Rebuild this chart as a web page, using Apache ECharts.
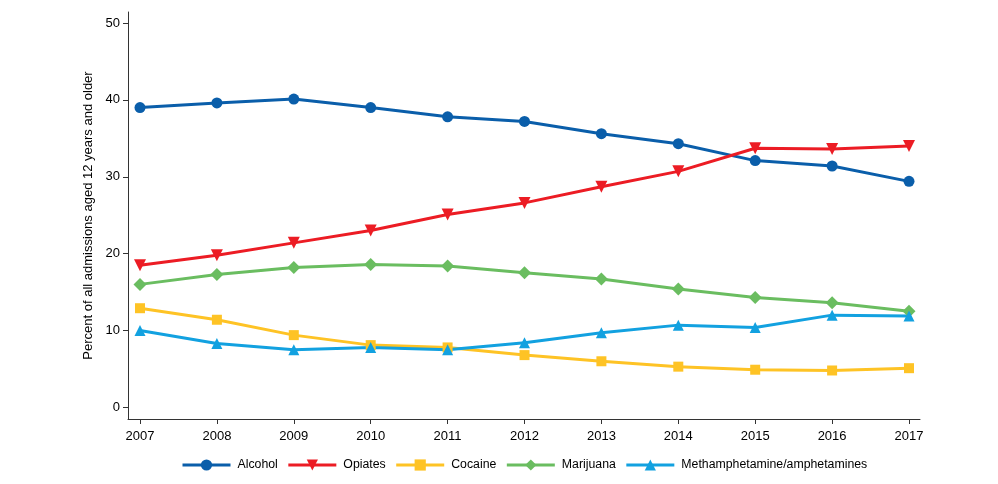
<!DOCTYPE html>
<html><head><meta charset="utf-8">
<script src="https://cdn.jsdelivr.net/npm/echarts@6/dist/echarts.min.js"></script>
<style>html,body{margin:0;padding:0;background:#fff}#c{width:998px;height:484px}</style>
</head><body><div id="c"></div>
<script>
const years = [2007,2008,2009,2010,2011,2012,2013,2014,2015,2016,2017];
const alcohol = [39.0,39.6,40.1,39.0,37.8,37.2,35.6,34.3,32.1,31.4,29.4];
const opiates = [18.5,19.8,21.4,23.0,25.1,26.6,28.7,30.7,33.7,33.6,34.0];
const cocaine = [12.9,11.4,9.4,8.1,7.8,6.8,6.0,5.3,4.9,4.8,5.1];
const marijuana = [16.0,17.3,18.2,18.6,18.4,17.5,16.7,15.4,14.3,13.6,12.5];
const meth = [10.0,8.3,7.5,7.8,7.5,8.4,9.7,10.7,10.4,12.0,11.9];
const yTicks = [0,10,20,30,40,50];

const chart = echarts.init(document.getElementById('c'));
const font = 'Liberation Sans, Arial, sans-serif';
function s(name, data, color, symbol, size){
  return {name, type:'line', data: years.map((y,i)=>[y,data[i]]), symbol, symbolSize:size,
    lineStyle:{color, width:3}, itemStyle:{color}, color, z: 2};
}
chart.setOption({
  animation:false,
  textStyle:{fontFamily:font},
  grid:{left:128, top:12, width:792, height:407},
  xAxis:{type:'value', min:2006.844, max:2017.143,
    axisLine:{onZero:false, lineStyle:{color:'#333', width:1}},
    axisTick:{show:true, length:5, customValues:years, lineStyle:{color:'#333'}},
    axisLabel:{customValues:years, formatter:v=>String(v), color:'#000', fontSize:13, fontFamily:font, margin:11},
    splitLine:{show:false}},
  yAxis:{type:'value', min:-1.51, max:51.43,
    name:'Percent of all admissions aged 12 years and older', nameLocation:'middle', nameGap:32,
    nameTextStyle:{color:'#000', fontSize:13, fontFamily:font},
    axisLine:{show:true, onZero:false, lineStyle:{color:'#333', width:1}},
    axisTick:{show:true, length:5, customValues:yTicks, lineStyle:{color:'#333'}},
    axisLabel:{customValues:yTicks, color:'#000', fontSize:13, fontFamily:font, margin:8},
    splitLine:{show:false}},
  legend:{top:454, left:176, itemWidth:48, itemHeight:14, itemGap:9,
    lineStyle:{width:3},
    textStyle:{color:'#000', fontSize:12.3, fontFamily:font, padding:[0,0,0,2]}},
  series:[
    s('Alcohol', alcohol, '#0a5eaa', 'circle', 11),
    s('Opiates', opiates, '#ec1c24', 'path://M0,0 L10,0 L5,10 Z', 12),
    s('Cocaine', cocaine, '#fec325', 'rect', 10),
    s('Marijuana', marijuana, '#6abd60', 'diamond', 13),
    s('Methamphetamine/amphetamines', meth, '#12a1e0', 'triangle', 11)
  ]
});
</script></body></html>
